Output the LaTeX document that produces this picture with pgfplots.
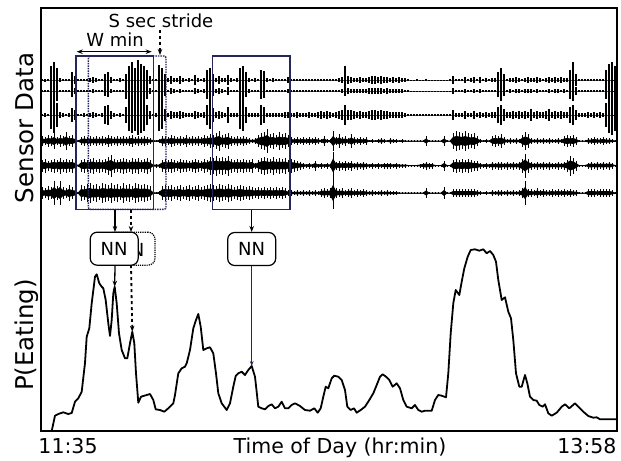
\documentclass[border=0pt]{standalone}
\usepackage{pgfplots}
\pgfplotsset{compat=1.18}
\usepackage{pgfplotstable}
\usepgfplotslibrary{fillbetween}
\usepackage{fontspec}
\setmainfont{DejaVu Sans}
\usetikzlibrary{arrows.meta}

\definecolor{boxnavy}{RGB}{38,38,92}

% Six raw sensor channels: per-sample spread around each channel's baseline
\pgfplotstableread{
x a1 a2 a3 a4 a5 a6
42 1 1 1 5 6 6
45 1.5 1 2 4 7 5
48 1 1 1 6 5 7
51 14 12 14 5 6 6
54 18 16 18 8 7 12
57 12 10 12 4 6 7
60 2 1 3 6 8 12
63 1 1 2 5 6 6
66 1 1 1 9 7 5
69 1 1 2 5 6 8
72 8 6 7 6 7 6
75 4 3 5 4 5 5
78 1 1 1 1 1 1
81 1 1 1 4 6 8
84 1 1 2 5 7 7
87 1 1 1 4 6 9
90 2 1 2 5 7 10
93 3 2 3 4 8 8
96 2 1 2 5 6 9
99 1 1 1 4 7 7
102 1 1 2 5 6 10
105 6 5 9 4 7 9
108 8 6 10 6 9 8
111 3 2 4 5 11 10
114 1 1 2 4 7 8
117 1 1 1 5 6 9
120 2 1 2 4 7 7
123 1 1 1 5 8 10
126 6 8 8 4 7 8
129 14 12 16 5 6 9
132 18 14 18 6 8 7
135 12 12 16 4 7 10
138 20 16 20 5 8 9
141 16 14 18 4 6 8
144 14 12 16 5 7 9
147 10 8 10 4 8 8
150 4 3 4 3 6 7
153 1 1 1 2 2 2
156 1 1 2 1 2 1
159 15 12 16 2 2 2
162 12 10 14 5 6 7
165 6 5 6 5 7 8
168 2 1 2 4 6 7
171 4 3 4 6 7 8
174 2 2 3 5 6 6
177 2 1 3 4 5 7
180 4 2 4 5 7 8
183 2 1 3 4 6 6
186 1 1 2 6 6 7
189 2 1 2 4 5 8
192 1 1 2 5 6 6
195 5 3 4 4 7 7
198 2 2 3 5 6 8
201 1 1 2 4 5 6
204 2 2 3 6 7 7
207 10 8 10 5 6 8
210 12 10 14 7 9 9
213 6 5 7 6 8 8
216 2 2 3 8 10 7
219 4 3 4 10 8 9
222 2 2 3 6 9 8
225 2 1 2 7 8 7
228 5 4 8 8 10 9
231 2 1 2 5 7 8
234 1 1 2 4 6 6
237 2 1 2 5 7 7
240 12 10 14 4 6 8
243 14 12 16 5 7 7
246 8 6 8 4 6 6
249 2 2 2 3 6 7
252 1 1 2 2 7 6
255 2 1 2 3 3 5
258 1 1 2 6 6 6
261 10 8 10 8 8 5
264 9 7 8 9 9 6
267 2 1 2 12 8 5
270 1 1 2 7 7 6
273 2 1 2 8 9 5
276 1 1 2 6 7 6
279 1 1 2 9 8 5
282 1 1 2 7 7 6
285 1 1 3 8 8 5
288 3 2 3 6 6 3
291 1 1 2 4 7 3
294 1 1 2 3 6 2
297 1 1 3 4 5 3
300 1 1 2 3 4 2
303 1 1 2 4 3 3
306 1 1 2 3 2 2
309 1 1 3 4 3 3
312 1 1 2 3 2 2
315 1 1 2 4 5 3
318 1 1 3 3 2 2
321 1 1 4 2 3 4
324 1 1 3 5 2 5
327 1 1 4 2 3 4
330 1 1 3 2 2 5
333 1 1 2 10 14 16
336 1 1 3 4 4 5
339 2 1 4 7 5 4
342 3 2 5 4 4 5
345 14 5 10 5 5 3
348 4 3 5 3 4 4
351 3 2 5 7 5 5
354 2 2 4 4 3 3
357 2 2 3 3 4 4
360 3 2 4 4 3 3
363 2 2 3 3 4 4
366 2 2 3 4 3 3
369 3 3 4 1 2 2
372 4 3 5 2 3 3
375 4 3 5 1 2 2
378 3 3 4 2 3 2
381 4 3 5 3 2 3
384 3 2 4 2 3 2
387 3 3 4 1 3 3
390 2 2 3 3 3 2
393 3 2 3 2 2 2
396 2 2 3 2 3 2
399 3 2 3 1 2 1
402 2 2 3 2 2 1
405 2 1 2 1 2 1
408 1 1 1 1 1 1
411 0.5 0.5 1 1 1 1
414 0.5 0.5 1 1 1 1
417 1 0.5 1 1 1 1
420 0.5 0.5 1 1 2 1
423 0.5 0.5 1 1 3 1
426 1 0.5 1 5 4 5
429 0.5 0.5 1 1 3 1
432 0.5 0.5 1 1 3 1
435 0.5 0.5 1 1 1 1
438 0.5 0.5 1 1 1 1
441 0.5 0.5 1 1 1 1
444 0.5 0.5 1 5 5 6
447 0.5 0.5 1 1 1 1
450 1 0.5 1 1 1 1
453 4 3 5 8 6 4
456 1 1 2 10 7 4
459 1 1 2 9 6 4
462 1 1 2 8 7 4
465 3 2 4 10 6 4
468 1 1 2 8 7 4
471 2 1 2 7 6 4
474 3 2 4 8 5 4
477 1 1 2 5 5 3
480 3 2 3 2 3 2
483 1 1 2 1 2 1
486 2 1 3 2 3 2
489 1 1 2 1 2 1
492 2 1 3 5 4 3
495 2 1 3 6 3 2
498 8 6 8 5 4 3
501 12 10 10 7 4 3
504 6 5 6 4 3 2
507 1 1 3 2 4 3
510 2 2 3 3 3 2
513 2 1 4 2 4 3
516 3 2 3 3 3 2
519 2 2 4 2 4 3
522 1 1 3 6 7 5
525 2 2 4 9 12 12
528 3 2 3 7 7 4
531 2 2 6 3 4 4
534 2 1 3 2 3 3
537 3 2 4 3 4 5
540 2 1 3 2 3 3
543 1 1 3 3 4 4
546 2 1 4 2 3 3
549 3 2 6 3 4 3
552 2 1 3 2 3 4
555 3 2 4 2 3 3
558 2 2 3 3 4 4
561 3 1 4 2 3 3
564 2 2 3 5 4 4
567 2 1 3 6 6 3
570 10 8 8 5 10 4
573 18 10 10 6 8 3
576 6 4 5 4 5 3
579 1 1 2 1 1 1
582 1 1 2 1 1 1
585 1 1 2 1 1 1
588 1 1 3 3 3 4
591 1 1 2 3 4 4
594 1 1 3 4 3 4
597 1 1 2 3 4 3
600 1 1 3 3 3 4
603 1 1 2 4 4 4
606 10 8 12 3 3 4
609 16 14 18 3 4 4
612 18 16 20 2 3 3
615 14 12 16 1 1 1
}\sensor

% Eating probability over the day (lower panel; larger y is lower on the page)
\pgfplotstableread{
t p
41 431
51.7 431
55 415.7
58.3 414
63.3 412.3
68.3 414
71.7 413
75 401.7
78.3 398.3
81.7 391.7
85 363
86.7 336.7
89.3 328.3
91.7 303.3
95 276.7
96.7 274.3
99.3 283.3
101.7 286.7
103.3 288.3
105.7 300
108.3 323.3
110 336
111.7 320
113.3 293.3
114.7 286.7
116.7 303.3
119 333.3
121.7 350
125 358.3
127.3 358.3
130 343.3
132.3 331.7
134.3 343.3
136 373.3
138.3 402.7
141 396.7
146.7 395
150 394
153.3 400
155.7 409.3
160 410
164.3 411.7
168.3 408.3
173.3 403.3
175 395
178.3 373.3
181.7 368.3
185 366.7
186.7 363.3
190 350
193.3 328.3
196 320
198.3 314
200.7 326.7
203.3 350
206.7 348.3
210 347.3
213.3 353.3
216 373.3
218.3 393.3
221.7 403.3
226.7 410
230 403.3
233.3 386.7
235.7 376
238.3 373.3
241.7 371.7
245 375
248.3 370
251.7 366
255 376.7
258.3 406.7
261.7 408.3
265 409.3
268.3 406
271.7 404.3
275 408.3
278.3 406.7
281.7 401.7
285 408.3
288.3 408.3
291.7 405
295 403.3
300 406
305 410
310 410.7
314.3 408.3
317.7 412.7
320.7 408.3
323.3 396.7
325.7 386.7
328.3 388.3
331.7 378.3
334.3 375.7
338.3 376.7
341.7 380
345 390
347.3 406.7
350.7 410
354 408.3
356.7 412.7
360.7 410
365 406.7
369.3 400
373.3 393.3
376.7 385
380 376.7
382.7 374.3
386 376.7
389.3 380
392.7 386.7
396.7 383.3
400 388.3
403.3 400
406.7 406.7
411.7 408.3
415 405
418.3 410
421.7 411.7
425 410.7
431.7 410.7
435 400
438.3 395
441.7 395.7
446 397.3
448.3 373.3
450.7 333.3
453.3 303.3
455.7 290
459.3 295
461.7 281.7
464.3 268.3
467.7 256.7
470.7 250
475 249.3
479.3 250.7
483.3 249.3
486.7 253.3
490 251
493.3 255
496 261.7
498.3 280
501.7 300
505 297.3
508.3 311.7
511 318.3
513.3 340
516 373.3
519.3 386.7
521.7 386.7
525 375
527.3 383.3
530 396.7
533.3 400
536.7 400.7
539.3 405
542.7 406.7
545 404.3
548.3 413.3
551.7 415.7
556.7 412.7
561.7 406.7
565 404.3
569.3 408.3
575 403.3
578.3 406.7
583.3 411.7
588.3 416
593.3 417.7
596.7 417.3
600 419.3
617 419.3
}\peating

\newcommand{\labelfont}{\fontsize{18bp}{20bp}\selectfont}
\newcommand{\tickfont}{\fontsize{20.5bp}{23bp}\selectfont}
\newcommand{\sidefont}{\fontsize{24.5bp}{27bp}\selectfont}

% one stroke per sample across the channel's spread
\newcommand{\spikechannel}[3]{%
  \addplot[black, line width=0.8pt,
    error bars/.cd, y dir=both, y explicit, error mark=none,
    error bar style={black, line width=#3}]
    table[x=x, y expr={#1}, y error=#2] {\sensor};
}
% busy channels also get a dense core over the inner half of the spread
\newcommand{\corechannel}[2]{%
  \addplot[name path=up#2, draw=none, forget plot]
    table[x=x, y expr={#1-0.5*\thisrow{#2}}] {\sensor};
  \addplot[name path=lo#2, draw=none, forget plot]
    table[x=x, y expr={#1+0.5*\thisrow{#2}}] {\sensor};
  \addplot[black] fill between[of=up#2 and lo#2];
  \spikechannel{#1}{#2}{0.9pt}
}

\begin{document}
\begin{tikzpicture}
\begin{axis}[
  scale only axis, width=576bp, height=423bp,
  xmin=41, xmax=617, ymin=8, ymax=431, y dir=reverse,
  axis line style={line width=2.2pt},
  ticks=none, clip=false,
]
% sensor channels
\spikechannel{80}{a1}{1.1pt}
\spikechannel{91}{a2}{1.1pt}
\spikechannel{115}{a3}{1.1pt}
\corechannel{141}{a4}
\corechannel{165.5}{a5}
\corechannel{193}{a6}

% probability of eating
\addplot[black, line width=1.8pt, line join=round] table[x=t, y=p] {\peating};

% sliding windows
\draw[boxnavy, line width=1.5pt, densely dotted, rounded corners=2bp]
  (axis cs:88.3,56) rectangle (axis cs:166,209.3);
\draw[boxnavy, line width=1.5pt] (axis cs:76,56) rectangle (axis cs:153.3,209.3);
\draw[boxnavy, line width=1.5pt] (axis cs:212.7,56) rectangle (axis cs:290,209.3);

% window annotations
\draw[black, line width=1.1pt, {Stealth[length=6bp]}-{Stealth[length=6bp]}]
  (axis cs:76.7,51.7) -- (axis cs:151.7,51.7);
\draw[black, line width=1.4pt, dashed, -{Stealth[length=6bp]}]
  (axis cs:160,30) -- (axis cs:160,55);
\node[anchor=base, font=\labelfont] at (axis cs:161,27.3) {S sec stride};
\node[anchor=base, font=\labelfont] at (axis cs:115,46.7) {W min};

% windows into the network
\draw[black, line width=1.4pt, -{Stealth[length=6bp]}] (axis cs:115,210) -- (axis cs:115,232);
\draw[black, line width=1.4pt, dashed, -{Stealth[length=6bp]}] (axis cs:131,210) -- (axis cs:131,232);
\draw[black, line width=1.4pt, -{Stealth[length=6bp]}] (axis cs:251.7,210) -- (axis cs:251.7,232);

% the strided copy of the network, partly hidden behind the first one
\node[draw=black, densely dotted, line width=1.2pt, fill=white, rounded corners=7bp,
  minimum width=48bp, minimum height=33bp, inner sep=0pt]
  at (axis cs:131,248.7) {};
\node[anchor=base, inner sep=0pt, font=\labelfont] at (axis cs:137.7,256) {N};
\node[draw=black, line width=1.2pt, fill=white, rounded corners=7bp,
  minimum width=48bp, minimum height=33bp, inner sep=0pt, font=\labelfont]
  at (axis cs:114.2,248.7) {NN};
\node[draw=black, line width=1.2pt, fill=white, rounded corners=7bp,
  minimum width=48bp, minimum height=33bp, inner sep=0pt, font=\labelfont]
  at (axis cs:251.7,249) {NN};

% network outputs onto the probability curve
\draw[black, line width=1.3pt, -{Stealth[length=6bp]}] (axis cs:115,265.2) -- (axis cs:114.7,286.7);
\draw[black, line width=1.8pt, dashed, -{Stealth[length=6bp]}] (axis cs:131,265.2) -- (axis cs:132.3,331.7);
\draw[boxnavy, line width=1.1pt, -{Stealth[length=5bp]}] (axis cs:251.7,265.5) -- (axis cs:251.7,366);

% labels
\node[anchor=base, rotate=90, font=\sidefont] at (axis cs:33,128) {Sensor Data};
\node[anchor=base, rotate=90, font=\sidefont] at (axis cs:33,335) {P(Eating)};
\node[anchor=base, font=\tickfont] at (axis cs:340,453.3) {Time of Day (hr:min)};
\node[anchor=base west, inner sep=0pt, font=\tickfont] at (axis cs:38.3,453.3) {11:35};
\node[anchor=base east, inner sep=0pt, font=\tickfont] at (axis cs:616.7,453.3) {13:58};

\path (axis cs:0,457) rectangle (axis cs:621,0);
\end{axis}
\end{tikzpicture}
\end{document}
